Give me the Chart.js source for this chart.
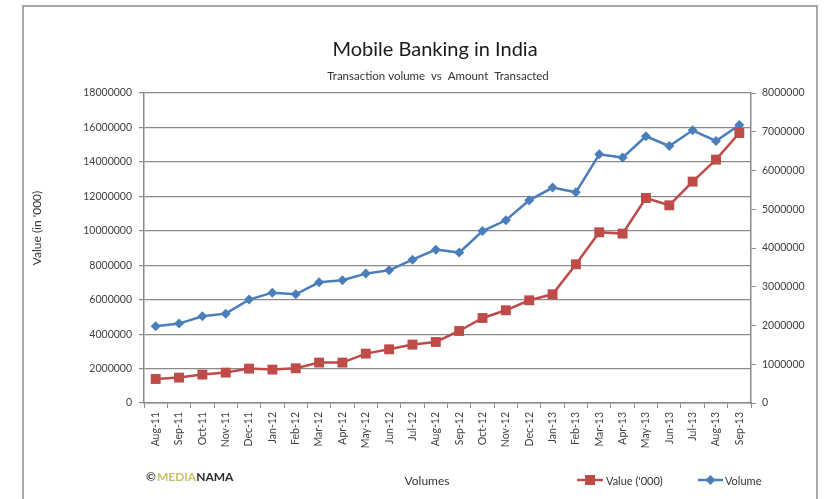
<!DOCTYPE html>
<html>
<head>
<meta charset="utf-8">
<script src="https://cdn.jsdelivr.net/npm/chart.js"></script>
<style>
  html, body { margin: 0; padding: 0; background: #fff; }
  canvas { display: block; }
</style>
</head>
<body>
<canvas id="mobileBanking" width="826" height="499"></canvas>
<script>
// meses (eje x)
const meses = ['Aug-11', 'Sep-11', 'Oct-11', 'Nov-11', 'Dec-11', 'Jan-12', 'Feb-12', 'Mar-12', 'Apr-12',
  'May-12', 'Jun-12', 'Jul-12', 'Aug-12', 'Sep-12', 'Oct-12', 'Nov-12', 'Dec-12', 'Jan-13', 'Feb-13',
  'Mar-13', 'Apr-13', 'May-13', 'Jun-13', 'Jul-13', 'Aug-13', 'Sep-13'];

// Value ('000) - eje izquierdo
const valorMiles = [1394000, 1475000, 1649000, 1765000, 1997000, 1939000, 2015000, 2346000, 2346000,
  2868000, 3118000, 3391000, 3542000, 4181000, 4935000, 5383000, 5963000, 6312000, 8054000,
  9912000, 9836000, 11903000, 11479000, 12855000, 14133000, 15677000];

// Volume - eje derecho
const volumen = [1979000, 2049000, 2237000, 2306000, 2668000, 2848000, 2805000, 3115000, 3166000,
  3339000, 3424000, 3700000, 3958000, 3881000, 4439000, 4715000, 5231000, 5559000, 5437000,
  6418000, 6333000, 6883000, 6632000, 7037000, 6761000, 7174000];

const ROJO = '#be4b48';
const AZUL = '#4a7ebb';
const GRIS = '#8a8a8a';
const FUENTE = 'Lato, "Open Sans", sans-serif';

// textos extra: marco, titulos, marca de agua, leyenda
const extras = {
  id: 'extras',
  beforeDraw(chart) {
    const ctx = chart.ctx;
    ctx.save();
    ctx.fillStyle = '#fff';
    ctx.fillRect(0, 0, chart.width, chart.height);
    ctx.restore();
  },
  afterDraw(chart) {
    const ctx = chart.ctx;
    ctx.save();

    // marco
    ctx.strokeStyle = '#a8a8a8';
    ctx.lineWidth = 2;
    ctx.beginPath();
    ctx.moveTo(23, 499);
    ctx.lineTo(23, 6);
    ctx.lineTo(817, 6);
    ctx.lineTo(817, 499);
    ctx.stroke();

    // titulo y subtitulo
    ctx.textAlign = 'center';
    ctx.textBaseline = 'middle';
    ctx.fillStyle = '#1a1a1a';
    ctx.font = '20px ' + FUENTE;
    ctx.fillText('Mobile Banking in India', 435, 50);
    ctx.fillStyle = '#333';
    ctx.font = '11.5px ' + FUENTE;
    ctx.fillText('Transaction volume  vs  Amount  Transacted', 438, 76);

    // titulo eje y
    ctx.save();
    ctx.translate(37, 228);
    ctx.rotate(-Math.PI / 2);
    ctx.font = '12px ' + FUENTE;
    ctx.fillStyle = '#333';
    ctx.fillText("Value (in '000)", 0, 0);
    ctx.restore();

    // titulo eje x
    ctx.font = '12px ' + FUENTE;
    ctx.fillStyle = '#333';
    ctx.fillText('Volumes', 427, 481);

    // marca de agua
    ctx.textAlign = 'left';
    ctx.font = 'bold 12px ' + FUENTE;
    ctx.fillStyle = '#444';
    ctx.fillText('\u00a9', 146, 477);
    let x = 146 + ctx.measureText('\u00a9').width + 1;
    ctx.fillStyle = '#c9c06a';
    ctx.fillText('MEDIA', x, 477);
    x += ctx.measureText('MEDIA').width;
    ctx.fillStyle = '#2b2b2b';
    ctx.fillText('NAMA', x, 477);

    // leyenda
    ctx.lineWidth = 2.5;
    ctx.strokeStyle = ROJO;
    ctx.beginPath();
    ctx.moveTo(577, 480);
    ctx.lineTo(603, 480);
    ctx.stroke();
    ctx.fillStyle = ROJO;
    ctx.fillRect(585, 475, 10, 10);
    ctx.strokeStyle = AZUL;
    ctx.beginPath();
    ctx.moveTo(698, 480);
    ctx.lineTo(723, 480);
    ctx.stroke();
    ctx.fillStyle = AZUL;
    ctx.beginPath();
    ctx.moveTo(705.5, 480);
    ctx.lineTo(710.5, 475);
    ctx.lineTo(715.5, 480);
    ctx.lineTo(710.5, 485);
    ctx.closePath();
    ctx.fill();

    ctx.font = '11px ' + FUENTE;
    ctx.fillStyle = '#333';
    ctx.fillText("Value ('000)", 606, 481);
    ctx.fillText('Volume', 725, 481);

    ctx.restore();
  }
};

new Chart(document.getElementById('mobileBanking'), {
  type: 'line',
  data: {
    labels: meses,
    datasets: [{
      label: "Value ('000)",
      data: valorMiles,
      yAxisID: 'y',
      borderColor: ROJO,
      backgroundColor: ROJO,
      borderWidth: 2.5,
      pointStyle: 'rect',
      pointRadius: 7,
      pointBorderWidth: 0,
      tension: 0
    }, {
      label: 'Volume',
      data: volumen,
      yAxisID: 'y1',
      borderColor: AZUL,
      backgroundColor: AZUL,
      borderWidth: 2.5,
      pointStyle: 'rectRot',
      pointRadius: 5,
      pointBorderWidth: 0,
      tension: 0
    }]
  },
  options: {
    responsive: false, // tamaño fijo
    animation: false,
    layout: { padding: { left: 24, right: 9, top: 93, bottom: 0 } },
    plugins: {
      legend: { display: false },
      title: { display: false },
      tooltip: { enabled: false }
    },
    scales: {
      x: {
        offset: true,
        afterFit: (s) => { s.height = 96; },
        grid: { offset: true, drawOnChartArea: false, drawTicks: true, tickLength: 5, color: GRIS },
        border: { display: true, color: GRIS, width: 1.5 },
        ticks: {
          autoSkip: false,
          minRotation: 90,
          maxRotation: 90,
          padding: 4,
          color: '#404040',
          font: { family: FUENTE, size: 10.5 }
        }
      },
      y: {
        position: 'left',
        min: 0,
        max: 18000000,
        afterFit: (s) => { s.width = 120; },
        grid: { color: GRIS, lineWidth: 1.2, tickLength: 5 },
        border: { display: true, color: GRIS, width: 1.5 },
        ticks: {
          stepSize: 2000000,
          padding: 7,
          color: '#404040',
          font: { family: FUENTE, size: 10.5 },
          callback: (v) => String(v)
        }
      },
      y1: {
        position: 'right',
        min: 0,
        max: 8000000,
        afterFit: (s) => { s.width = 66; },
        grid: { drawOnChartArea: false, color: GRIS, tickLength: 5 },
        border: { display: true, color: GRIS, width: 1.5 },
        ticks: {
          stepSize: 1000000,
          padding: 6,
          color: '#404040',
          font: { family: FUENTE, size: 10.5 },
          callback: (v) => String(v)
        }
      }
    }
  },
  plugins: [extras]
});
</script>
</body>
</html>
